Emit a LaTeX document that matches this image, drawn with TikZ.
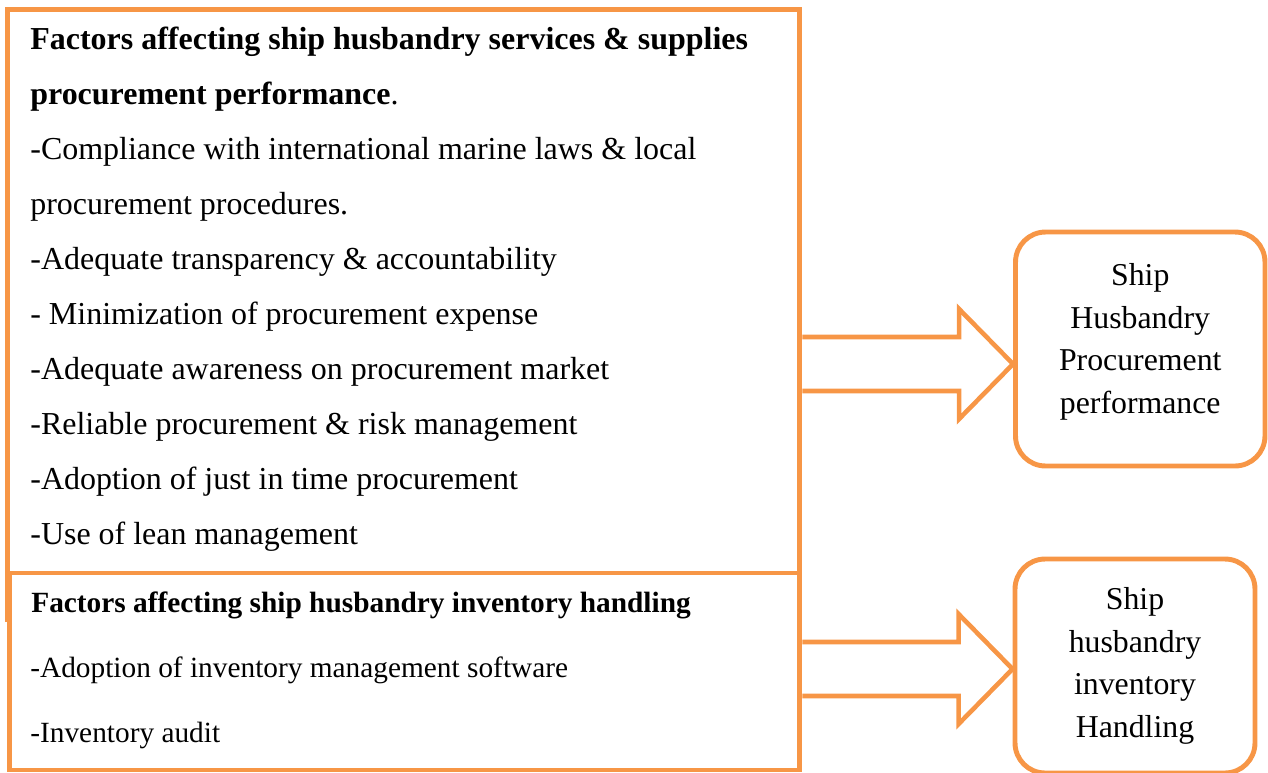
\documentclass[tikz,border=0pt]{standalone}
\usepackage{fontspec}
\setmainfont{Liberation Serif}
\usetikzlibrary{calc}
\definecolor{boxorange}{HTML}{F79646}
\tikzset{
  factorbox/.style={draw=boxorange, line width=2.8pt, fill=white, inner sep=0pt},
  outbox/.style={draw=boxorange, line width=2.8pt, rounded corners=0.6cm, inner sep=0pt},
  blockarrow/.style={draw=boxorange, line width=2.6pt, line join=miter},
  item/.style={anchor=base west, inner sep=0pt, font=\fontsize{18.2}{22}\selectfont},
  subitem/.style={anchor=base west, inner sep=0pt, font=\fontsize{16.7}{20}\selectfont},
  outtext/.style={align=center, inner sep=0pt, font=\fontsize{18.1}{24.2}\selectfont}
}

\begin{document}
\begin{tikzpicture}[x=0.02cm, y=-0.02cm]
\useasboundingbox (0,0) rectangle (1268,772);

% the two boxes of factors, the lower one lies over the upper one
\node[factorbox, minimum width=15.85cm, minimum height=12.22cm] (procbox) at (403.75,314.5) {};
\node[factorbox, minimum width=15.81cm, minimum height=3.94cm] (invbox) at (404.75,671.5) {};

% the two results
\node[outbox, minimum width=4.99cm, minimum height=4.68cm] (perf) at (1140.25,349) {};
\node[outbox, minimum width=4.8cm, minimum height=4.28cm] (hand) at (1135,666) {};

\foreach \t [count=\i] in {
  {\textbf{Factors affecting ship husbandry services \& supplies}},
  {\textbf{procurement performance}.},
  {-Compliance with international marine laws \& local},
  {procurement procedures.},
  {-Adequate transparency \& accountability},
  {- Minimization of procurement expense},
  {-Adequate awareness on procurement market},
  {-Reliable procurement \& risk management},
  {-Adoption of just in time procurement},
  {-Use of lean management}}
  \node[item] (proc\i) at (30,{49+55*(\i-1)}) {\t};

\node[subitem] (inv1) at (31,612) {\textbf{Factors affecting ship husbandry inventory handling}};
\node[subitem] (inv2) at (30,677) {-Adoption of inventory management software};
\node[subitem] (inv3) at (30,742) {-Inventory audit};

\node[outtext] (perftext) at ($(perf)+(0,-7)$) {Ship\\Husbandry\\Procurement\\performance};
\node[outtext] (handtext) at (hand) {Ship\\husbandry\\inventory\\Handling};

% block arrows from the factors to the results
\coordinate (a1) at (procbox.east |- 0,364);
\coordinate (a2) at (invbox.east |- 0,669);
\foreach \s/\t in {a1/perf, a2/hand}
  \draw[blockarrow] ($(\s)+(0,-27)$) -- ($(\s -| \t.west)+(-54,-27)$)
    -- ($(\s -| \t.west)+(-54,-55)$) -- (\s -| \t.west)
    -- ($(\s -| \t.west)+(-54,55)$) -- ($(\s -| \t.west)+(-54,27)$)
    -- ($(\s)+(0,27)$);

\end{tikzpicture}
\end{document}
